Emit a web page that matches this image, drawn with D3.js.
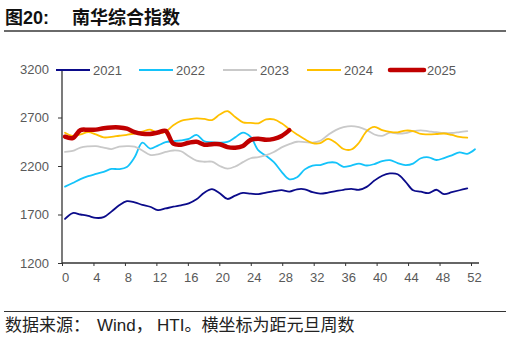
<!DOCTYPE html>
<html>
<head>
<meta charset="utf-8">
<script src="https://cdn.jsdelivr.net/npm/d3@7"></script>
<style>
  body { margin: 0; background: #fff; }
  svg { display: block; font-family: "Liberation Sans", Arial, sans-serif; }
</style>
</head>
<body>
<div id="chart"></div>
<script>
// weekly values, index = weeks since New Year
var years = ['2021', '2022', '2023', '2024', '2025'];
var colors = ['#0B0B8A', '#14C3FA', '#C9C9C9', '#FFC000', '#C00000'];

var s2021 = [1654, 1715, 1700, 1685, 1665, 1672, 1730, 1795, 1838, 1825, 1800, 1780, 1745, 1762, 1780, 1795, 1815, 1857, 1925, 1962,
  1920, 1860, 1895, 1922, 1915, 1910, 1925, 1940, 1952, 1936, 1960, 1960, 1930, 1915, 1925, 1940, 1955, 1965, 1955, 1985,
  2050, 2100, 2123, 2115, 2040, 1950, 1935, 1920, 1955, 1910, 1930, 1950, 1970];
var s2022 = [1987, 2025, 2065, 2095, 2118, 2140, 2170, 2168, 2190, 2290, 2440, 2380, 2410, 2445, 2455, 2465, 2480, 2520, 2455, 2445,
  2440, 2448, 2495, 2545, 2500, 2360, 2305, 2240, 2140, 2063, 2084, 2165, 2205, 2210, 2235, 2235, 2192, 2205, 2225, 2205,
  2220, 2250, 2260, 2230, 2210, 2225, 2280, 2290, 2262, 2282, 2310, 2340, 2325, 2372];
var s2023 = [2345, 2355, 2390, 2402, 2405, 2390, 2375, 2400, 2405, 2400, 2360, 2315, 2320, 2345, 2360, 2352, 2300, 2255, 2244, 2244,
  2200, 2172, 2195, 2240, 2280, 2292, 2312, 2345, 2392, 2425, 2450, 2447, 2442, 2460, 2520, 2570, 2600, 2612, 2600, 2570,
  2525, 2510, 2543, 2535, 2540, 2560, 2568, 2558, 2548, 2540, 2540, 2550, 2560];
var s2024 = [2543, 2510, 2525, 2550, 2525, 2495, 2500, 2512, 2522, 2535, 2555, 2575, 2540, 2555, 2620, 2665, 2680, 2690, 2685, 2674,
  2730, 2765, 2705, 2650, 2645, 2640, 2680, 2680, 2640, 2580, 2525, 2475, 2437, 2436, 2480, 2440, 2375, 2370, 2440, 2560,
  2603, 2570, 2552, 2547, 2565, 2560, 2530, 2527, 2530, 2535, 2520, 2500, 2492];
var s2025 = [2502, 2488, 2570, 2573, 2575, 2590, 2598, 2598, 2585, 2550, 2533, 2530, 2545, 2562, 2430, 2420, 2440, 2450, 2420, 2425,
  2425, 2395, 2388, 2406, 2470, 2480, 2470, 2480, 2510, 2570];

var series = [s2021, s2022, s2023, s2024, s2025];
var yTicks = [1200, 1700, 2200, 2700, 3200];
var xTicks = d3.range(0, 53, 4);

var W = 510, H = 339;
var svg = d3.select('#chart').append('svg').attr('width', W).attr('height', H);

// title
var title = svg.append('text').attr('x', 5).attr('y', 24)
    .style('font-size', '18px').style('font-weight', 'bold').attr('fill', '#111');
title.append('tspan').style('font-family', '"Noto Sans CJK SC", sans-serif').text('图');
title.append('tspan').style('font-family', '"Liberation Sans", Arial, sans-serif').text('20:');
title.append('tspan').attr('x', 72).style('font-family', '"Noto Sans CJK SC", sans-serif').text('南华综合指数');
svg.append('line').attr('x1', 4).attr('x2', 506).attr('y1', 31).attr('y2', 31)
    .attr('stroke', '#6a6a6a').attr('stroke-width', 2);

var x = d3.scaleLinear().domain([0, 53]).range([65, 475]);
var xt = d3.scaleLinear().domain([0, 52]).range([62, 471]);
var y = d3.scaleLinear().domain([1200, 3200]).range([263, 69]);

// y axis
var yAxis = svg.append('g').attr('transform', 'translate(62,0)')
    .call(d3.axisLeft(y).tickValues(yTicks).tickFormat(d3.format('d')).tickSize(4).tickPadding(9));
yAxis.select('.domain').remove();
yAxis.append('line').attr('y1', 69).attr('y2', 263).attr('stroke', '#333').attr('stroke-width', 1.3);
yAxis.selectAll('.tick line').attr('stroke', '#333');
yAxis.selectAll('text').attr('fill', '#595959').style('font-size', '13px')
    .style('font-family', '"Liberation Sans", Arial, sans-serif');

// x axis
var xAxis = svg.append('g').attr('transform', 'translate(0,263)')
    .call(d3.axisBottom(xt).tickValues(xTicks).tickSize(3).tickPadding(7));
xAxis.select('.domain').remove();
xAxis.append('line').attr('x1', 62).attr('x2', 479).attr('stroke', '#333').attr('stroke-width', 1.3);
xAxis.selectAll('.tick line').attr('stroke', '#333');
xAxis.selectAll('text').attr('fill', '#595959').style('font-size', '13px')
    .attr('dx', 3)
    .style('font-family', '"Liberation Sans", Arial, sans-serif');

// lines
var line = d3.line()
    .x(function(d, i) { return x(i); })
    .y(function(d) { return y(d); })
    .curve(d3.curveCatmullRom.alpha(0.5));

series.forEach(function(s, k) {
    svg.append('path')
        .datum(s)
        .attr('fill', 'none')
        .attr('stroke', colors[k])
        .attr('stroke-width', k === 4 ? 4.5 : 1.8)
        .attr('stroke-linecap', 'round')
        .attr('stroke-linejoin', 'round')
        .attr('d', line);
});

// legend
var legendX = [56, 139, 223, 307, 390];
years.forEach(function(yr, k) {
    var g = svg.append('g').attr('transform', 'translate(' + legendX[k] + ',70)');
    g.append('line').attr('x1', 0).attr('x2', 34)
        .attr('stroke', colors[k]).attr('stroke-width', k === 4 ? 4.5 : 2)
        .attr('stroke-linecap', k === 4 ? 'round' : 'butt');
    g.append('text').attr('x', 37).attr('y', 5)
        .attr('fill', '#595959').style('font-size', '13px').text(yr);
});

// footer
svg.append('line').attr('x1', 4).attr('x2', 506).attr('y1', 311.5).attr('y2', 311.5)
    .attr('stroke', '#333').attr('stroke-width', 1);
var foot = svg.append('text').attr('x', 5).attr('y', 331)
    .style('font-size', '17px').attr('fill', '#222');
foot.append('tspan').style('font-family', '"Noto Sans CJK SC", sans-serif').text('数据来源：');
foot.append('tspan').attr('x', 97).style('font-family', '"Liberation Sans", Arial, sans-serif').text('Wind');
foot.append('tspan').style('font-family', '"Noto Sans CJK SC", sans-serif').text('，');
foot.append('tspan').attr('x', 157).style('font-family', '"Liberation Sans", Arial, sans-serif').text('HTI');
foot.append('tspan').style('font-family', '"Noto Sans CJK SC", sans-serif').text('。横坐标为距元旦周数');
</script>
</body>
</html>
